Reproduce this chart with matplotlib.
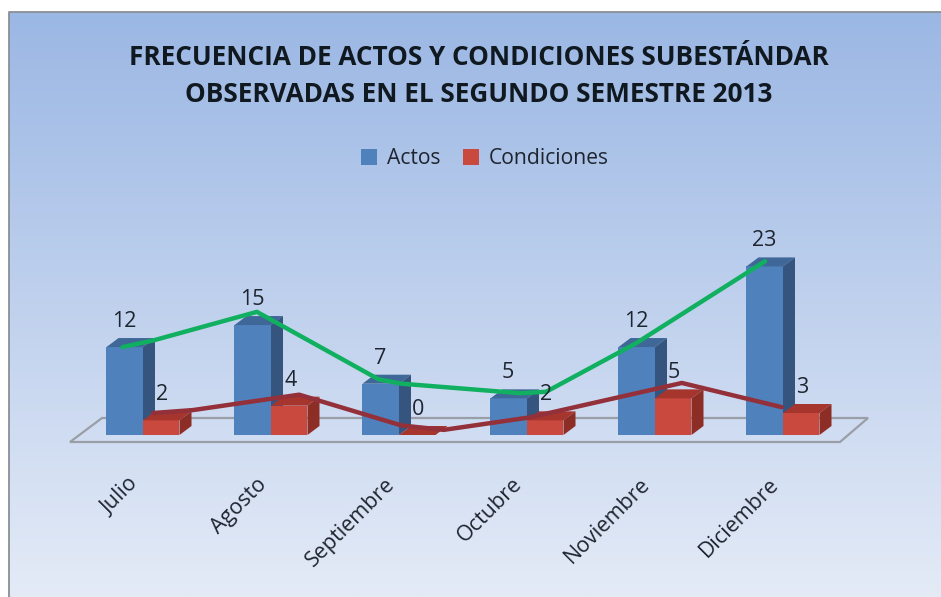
import numpy as np
import matplotlib
matplotlib.use('Agg')
import matplotlib.pyplot as plt
from matplotlib.patches import Patch, Polygon, Rectangle

# Frecuencia de actos y condiciones, bars faked in 3D with polygons

meses = ['Julio', 'Agosto', 'Septiembre', 'Octubre', 'Noviembre', 'Diciembre']
actos = [12, 15, 7, 5, 12, 23]
condiciones = [2, 4, 0, 2, 5, 3]

# the two hand drawn trend lines (month position, value)
linea_actos_x = [-0.16, 0.08, 0.89, 1.84, 2.02, 2.95, 3.15, 3.85, 4.86]
linea_actos_y = [12.0, 12.9, 16.8, 7.6, 7.0, 5.7, 5.9, 12.5, 23.7]
linea_cond_x = [0.08, 0.39, 1.22, 2.02, 2.35, 3.02, 4.21, 4.99]
linea_cond_y = [3.0, 3.4, 5.5, 1.3, 0.7, 2.4, 7.1, 3.8]

PX_X = 128.0   # pixels per month
PX_Y = 7.33    # pixels per unit
BAR_W = 36.5 / PX_X
DEPTH_X = 12 / PX_X
DEPTH_Y = 9 / PX_Y

BLUE = ('#4f81bd', '#3f6797', '#35557f')
RED = ('#c9493f', '#a5352d', '#8c2d26')
TEXT = '#1f2530'

plt.rcParams['font.family'] = ['Open Sans', 'DejaVu Sans']

fig = plt.figure(figsize=(9.41, 5.97), dpi=100, facecolor='white')
ax = fig.add_axes([0, 0, 1, 1])
xlim = (-143 / PX_X, (941 - 143) / PX_X)
ylim = (-(597 - 435) / PX_Y, 435 / PX_Y)
ax.axis('off')

# panel with vertical gradient
grad = np.linspace(0, 1, 256).reshape(-1, 1)
top = np.array([0x9b, 0xb7, 0xe4]) / 255
bottom = np.array([0xe4, 0xeb, 0xf7]) / 255
img = top + (bottom - top) * grad[..., None]
ax.imshow(img, extent=(9 / 941, 1, 0, 1 - 12 / 597), transform=ax.transAxes,
          aspect='auto', zorder=0)
ax.set_xlim(xlim)
ax.set_ylim(ylim)

# only the top and left edges of the panel show in the crop
ax.plot([9 / 941, 9 / 941, 1], [0, 1 - 12 / 597, 1 - 12 / 597], transform=ax.transAxes,
        color='#8a8f96', lw=1.3, zorder=1)

# floor of the chart
n = len(meses)
floor_l = -73 / PX_X
floor_r = (n - 1) + 57 / PX_X
floor = [(floor_l, -7 / PX_Y), (floor_r, -7 / PX_Y),
         (floor_r + 28 / PX_X, 17 / PX_Y), (floor_l + 32 / PX_X, 17 / PX_Y)]
ax.add_patch(Polygon(floor, closed=True, fill=False, ec='#9a9ea6', lw=1.6, zorder=2))


def bar3d(x, h, cols, z):
    ax.add_patch(Rectangle((x, 0), BAR_W, h, fc=cols[0], ec='none', zorder=z))
    ax.add_patch(Polygon([(x, h), (x + BAR_W, h), (x + BAR_W + DEPTH_X, h + DEPTH_Y),
                          (x + DEPTH_X, h + DEPTH_Y)], fc=cols[1], ec='none', zorder=z))
    ax.add_patch(Polygon([(x + BAR_W, 0), (x + BAR_W + DEPTH_X, DEPTH_Y),
                          (x + BAR_W + DEPTH_X, h + DEPTH_Y), (x + BAR_W, h)],
                         fc=cols[2], ec='none', zorder=z))


for i in range(n):
    bar3d(i - BAR_W, actos[i], BLUE, 3 + i * 0.1)
    bar3d(i, condiciones[i], RED, 3.05 + i * 0.1)
    ax.text(i - 0.15, actos[i] + 3.5, str(actos[i]), ha='center', va='center',
            fontsize=15.5, color=TEXT, zorder=6)
    ax.text(i + 0.15, condiciones[i] + 3.5, str(condiciones[i]), ha='center', va='center',
            fontsize=15.5, color=TEXT, zorder=6)
    ax.text(i - 0.06, -6.3, meses[i], rotation=45, rotation_mode='anchor', ha='right', va='center',
            fontsize=15.5, color=TEXT, zorder=6)

ax.plot(linea_actos_x, linea_actos_y, color='#10b060', lw=3.2, solid_capstyle='round',
        solid_joinstyle='round', zorder=5)
ax.plot(linea_cond_x, linea_cond_y, color='#93303a', lw=3.2, solid_capstyle='round',
        solid_joinstyle='round', zorder=5)

ax.text(479 / 941, 1 - 76 / 597, 'FRECUENCIA DE ACTOS Y CONDICIONES SUBESTÁNDAR\nOBSERVADAS EN EL SEGUNDO SEMESTRE 2013',
        transform=ax.transAxes, ha='center', va='center', fontsize=18.8, fontweight='bold',
        color='#101820', linespacing=1.5, zorder=6)

handles = [Patch(fc=BLUE[0], label='Actos'), Patch(fc=RED[0], label='Condiciones')]
ax.legend(handles=handles, loc='center', bbox_to_anchor=(485 / 941, 1 - 159 / 597), ncol=2,
          frameon=False, fontsize=15.2, handlelength=0.75, handleheight=0.75, handletextpad=0.45,
          columnspacing=1.1, labelcolor=TEXT)

fig.savefig('out.png', dpi=100)
